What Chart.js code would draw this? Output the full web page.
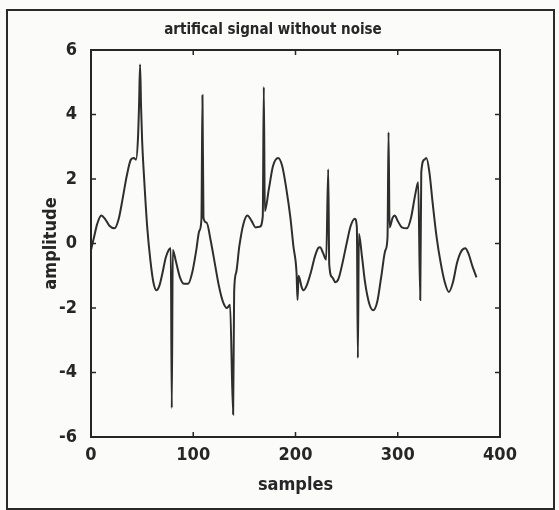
<!DOCTYPE html>
<html>
<head>
<meta charset="utf-8">
<script src="https://cdn.jsdelivr.net/npm/chart.js@4.4.0/dist/chart.umd.min.js"></script>
<style>
  body { margin: 0; background: #fbfbf9; }
  #wrap { position: relative; width: 559px; height: 510px; }
  #frame { position: absolute; left: 6px; top: 9px; width: 545px; height: 497px; border: 2px solid #2a2a2a; pointer-events: none; }
</style>
</head>
<body>
<div id="wrap">
  <canvas id="canvas" width="559" height="510"></canvas>
  <div id="frame"></div>
</div>
<script>
// sample index / amplitude
var samples = [0, 3, 6, 10, 14, 18, 23, 27, 31, 35, 39, 42, 44, 46, 47, 48, 49, 50, 52, 55,
  58, 61, 64, 67, 70, 73, 76, 78, 79, 80, 83, 87, 91, 95, 99, 103, 106, 108, 109, 110,
  113, 117, 121, 125, 129, 133, 136, 139, 140, 142, 145, 149, 153, 157, 161, 165, 168, 169, 170, 174,
  178, 183, 187, 191, 195, 198, 201, 202, 203, 206, 208, 211, 215, 219, 222, 224, 227, 230, 232, 233,
  236, 239, 242, 246, 250, 254, 258, 260, 261, 262, 265, 268, 272, 276, 280, 284, 288, 290, 291, 292,
  295, 297, 300, 304, 309, 313, 317, 320, 322, 323, 326, 328, 331, 334, 338, 342, 346, 350, 354, 358,
  362, 366, 369, 373, 377];
var amplitude = [-0.2, 0.2, 0.6, 0.87, 0.75, 0.55, 0.47, 0.75, 1.4, 2.1, 2.6, 2.65, 2.6, 3.3, 4.3, 5.55, 4.2, 3.2, 2.0, 0.5,
  -0.5, -1.2, -1.45, -1.3, -0.9, -0.45, -0.2, -0.15, -5.1, -0.2, -0.55, -1.05, -1.25, -1.25, -0.9, -0.2, 0.4, 0.75, 4.6, 0.8,
  0.65, 0.1, -0.6, -1.3, -1.8, -2.0, -1.9, -5.3, -1.5, -0.9, -0.1, 0.6, 0.87, 0.7, 0.5, 0.52, 0.85, 4.85, 1.0, 1.7,
  2.4, 2.65, 2.4, 1.7, 0.8, -0.1, -0.9, -1.75, -1.0, -1.35, -1.45, -1.3, -0.9, -0.4, -0.15, -0.12, -0.3, -0.5, 2.3, -0.65,
  -1.05, -1.2, -1.1, -0.6, 0.0, 0.55, 0.77, 0.5, -3.55, 0.3, -0.4, -1.2, -1.85, -2.07, -1.8, -1.0, -0.2, 0.2, 3.45, 0.5,
  0.8, 0.87, 0.7, 0.5, 0.47, 0.8, 1.5, 1.9, -1.75, 2.2, 2.6, 2.65, 2.2, 1.3, 0.2, -0.6, -1.2, -1.5, -1.2, -0.6,
  -0.25, -0.15, -0.3, -0.7, -1.05];

var xTicks = [0, 100, 200, 300, 400];
var yTicks = [-6, -4, -2, 0, 2, 4, 6];

var points = samples.map(function (s, i) {
  return { x: s, y: amplitude[i] };
});

var fontFam = "'Liberation Sans Narrow', 'DejaVu Sans Condensed', 'Liberation Sans', Arial, sans-serif";
var ink = '#262626';

// matlab style box with inward ticks
var boxPlugin = {
  id: 'box',
  afterDatasetsDraw: function (chart) {
    var ctx = chart.ctx;
    var a = chart.chartArea;
    var xs = chart.scales.x, ys = chart.scales.y;
    ctx.save();
    ctx.strokeStyle = ink;
    ctx.lineWidth = 2;
    ctx.strokeRect(a.left, a.top, a.right - a.left, a.bottom - a.top);
    ctx.lineWidth = 1.5;
    ctx.beginPath();
    xTicks.forEach(function (t) {
      var px = xs.getPixelForValue(t);
      ctx.moveTo(px, a.bottom); ctx.lineTo(px, a.bottom - 5);
      ctx.moveTo(px, a.top); ctx.lineTo(px, a.top + 5);
    });
    yTicks.forEach(function (t) {
      var py = ys.getPixelForValue(t);
      ctx.moveTo(a.left, py); ctx.lineTo(a.left + 5, py);
      ctx.moveTo(a.right, py); ctx.lineTo(a.right - 5, py);
    });
    ctx.stroke();
    ctx.restore();
  }
};

const ctx = document.getElementById('canvas').getContext('2d');
const myChart = new Chart(ctx, {
  type: 'line',
  data: {
    datasets: [
      {
        label: 'signal',
        data: points,
        borderColor: '#2e2e2e',
        borderWidth: 2,
        pointRadius: 0,
        tension: 0.4,
        cubicInterpolationMode: 'monotone',
        fill: false,
      },
    ],
  },
  options: {
    responsive: false,
    animation: false,
    layout: { padding: { left: 46, right: 59, top: 0, bottom: 0 } },
    plugins: {
      legend: { display: false },
      tooltip: { enabled: false },
      title: {
        display: true,
        text: 'artifical signal without noise',
        color: ink,
        font: { family: fontFam, size: 15, weight: 'bold' },
        padding: { top: 21, bottom: 11 },
      },
    },
    scales: {
      x: {
        type: 'linear',
        min: 0,
        max: 400,
        afterBuildTicks: function (scale) {
          scale.ticks = xTicks.map(function (v) { return { value: v }; });
        },
        afterFit: function (scale) { scale.height = 73; },
        grid: { display: false, drawTicks: false },
        border: { display: false },
        ticks: { color: ink, padding: 8, maxRotation: 0, font: { family: fontFam, size: 18, weight: 'bold' } },
        title: {
          display: true,
          text: 'samples',
          color: ink,
          font: { family: fontFam, size: 18, weight: 'bold' },
          padding: { top: 0, bottom: 14 },
        },
      },
      y: {
        min: -6,
        max: 6,
        afterBuildTicks: function (scale) {
          scale.ticks = yTicks.map(function (v) { return { value: v }; });
        },
        afterFit: function (scale) { scale.width = 45; },
        grid: { display: false, drawTicks: false },
        border: { display: false },
        ticks: { color: ink, padding: 14, font: { family: fontFam, size: 18, weight: 'bold' } },
        title: {
          display: true,
          text: 'amplitude',
          color: ink,
          font: { family: fontFam, size: 18, weight: 'bold' },
          padding: { top: -5, bottom: 0 },
        },
      },
    },
  },
  plugins: [boxPlugin],
});
</script>
</body>
</html>
